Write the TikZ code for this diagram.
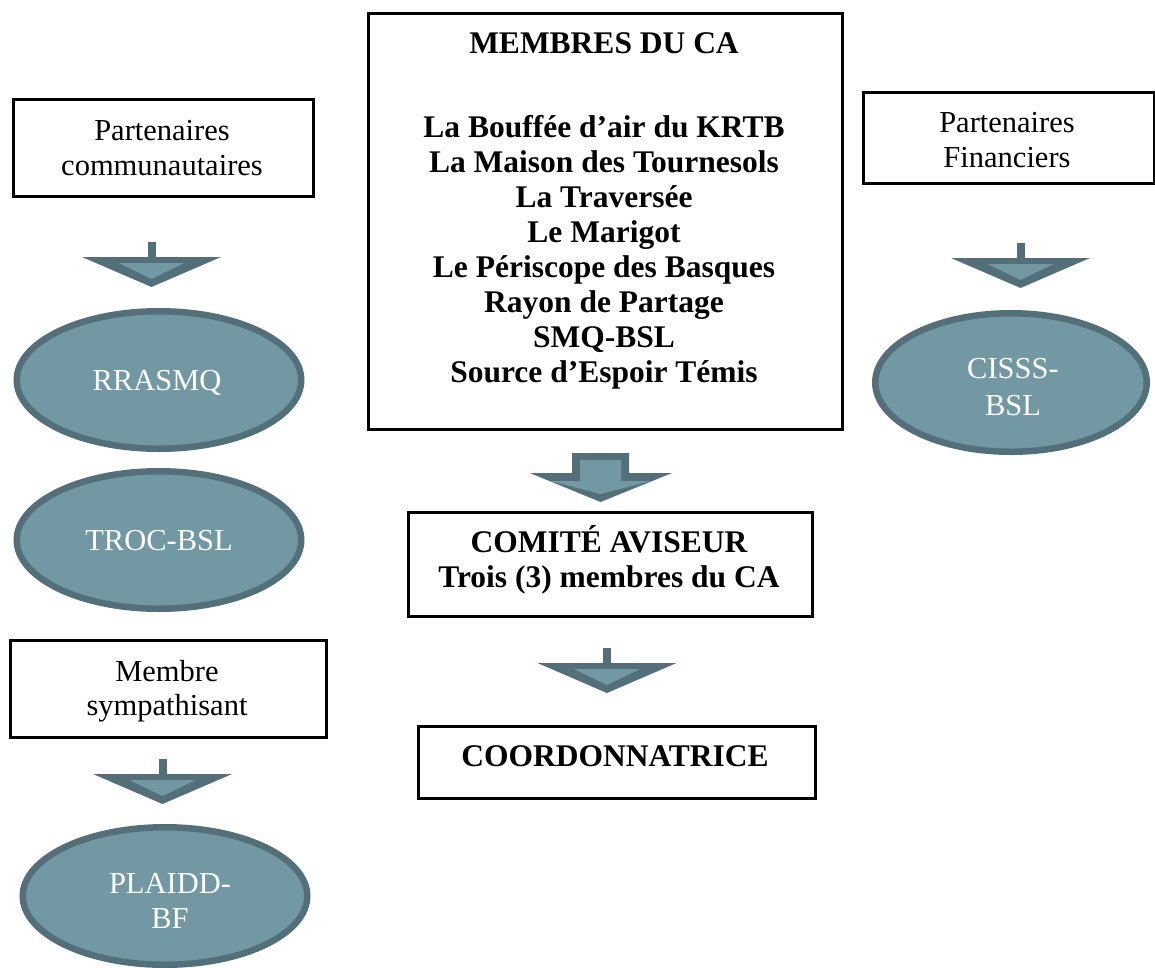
\documentclass[tikz,border=0pt]{standalone}
\usepackage{fontspec}
\setmainfont{Liberation Serif}
\usetikzlibrary{shapes.geometric}
\definecolor{dk}{HTML}{53707A}
\definecolor{lt}{HTML}{7298A3}
\newcommand\smallarrow[2]{%
  \fill[dk] (#1-4,#2-15) rectangle (#1+4,#2+1);
  \fill[dk] (#1-69.5,#2) -- (#1+69.5,#2) -- (#1,#2+30) -- cycle;
  \fill[lt] (#1-33,#2+6) -- (#1+33,#2+6) -- (#1,#2+22) -- cycle;}
\begin{document}
\begin{tikzpicture}[x=1pt,y=-1pt,
  box/.style={draw=black,line width=2.5pt,anchor=north west,inner sep=0pt},
  txt/.style={anchor=base,inner sep=0pt,font=\fontsize{30.5}{35}\selectfont},
  btxt/.style={anchor=base,inner sep=0pt,font=\fontsize{31.5}{35}\selectfont\bfseries},
  wtxt/.style={anchor=base,inner sep=0pt,text=white,font=\fontsize{30.5}{35}\selectfont},
  oval/.style={ellipse,draw=dk,fill=lt,line width=6.5pt,inner sep=0pt}]
\useasboundingbox (0,0) rectangle (1155,967);

% boxes
\node[box,minimum width=300pt,minimum height=97pt] (pc) at (12,98) {};
\node[txt] (pc1) at (162,140) {Partenaires};
\node[txt] (pc2) at (162,175) {communautaires};

\node[box,minimum width=291pt,minimum height=91pt] (pf) at (862,91) {};
\node[txt] (pf1) at (1007,132) {Partenaires};
\node[txt] (pf2) at (1007,167) {Financiers};

\node[box,minimum width=316pt,minimum height=97pt] (ms) at (9,639) {};
\node[txt] (ms1) at (167,681) {Membre};
\node[txt] (ms2) at (167,715) {sympathisant};

\node[box,minimum width=474pt,minimum height=416pt] (ca) at (367,12) {};
\node[btxt] (cat) at (604,53) {MEMBRES DU CA};
\foreach \t [count=\i from 0] in {La Bouffée d’air du KRTB,La Maison des Tournesols,La Traversée,Le Marigot,Le Périscope des Basques,Rayon de Partage,SMQ-BSL,Source d’Espoir Témis}
  \node[btxt] (cal\i) at (604,137+35*\i) {\t};

\node[box,minimum width=404pt,minimum height=104pt] (com) at (407,511) {};
\node[btxt] (com1) at (609,552) {COMITÉ AVISEUR};
\node[btxt] (com2) at (609,587) {Trois (3) membres du CA};

\node[box,minimum width=397pt,minimum height=72pt] (co) at (417,725) {};
\node[btxt] (co1) at (615,766) {COORDONNATRICE};

% ellipses
\node[oval,minimum width=284.5pt,minimum height=137.5pt] (rr) at (159,380) {};
\node[wtxt] (rrt) at (157,390) {RRASMQ};
\node[oval,minimum width=284.5pt,minimum height=137.5pt] (tr) at (159,540) {};
\node[wtxt] (trt) at (159,550) {TROC-BSL};
\node[oval,minimum width=284.5pt,minimum height=137.5pt] (pl) at (165,896) {};
\node[wtxt] (plt1) at (170,893) {PLAIDD-};
\node[wtxt] (plt2) at (170,928) {BF};
\node[oval,minimum width=271.5pt,minimum height=138.5pt] (ci) at (1011,382.5) {};
\node[wtxt] (cit1) at (1013,378) {CISSS-};
\node[wtxt] (cit2) at (1013,415) {BSL};

% arrows
\smallarrow{151.5}{257}
\smallarrow{1020.5}{258}
\smallarrow{162.5}{774}
\smallarrow{607}{663}
\fill[dk] (572,453) -- (629,453) -- (629,473) -- (672,473) -- (600.5,502) -- (530,473) -- (572,473) -- cycle;
\fill[lt] (580,460) -- (621,460) -- (621,481) -- (651,481) -- (600.5,494) -- (550,481) -- (580,481) -- cycle;
\end{tikzpicture}
\end{document}
